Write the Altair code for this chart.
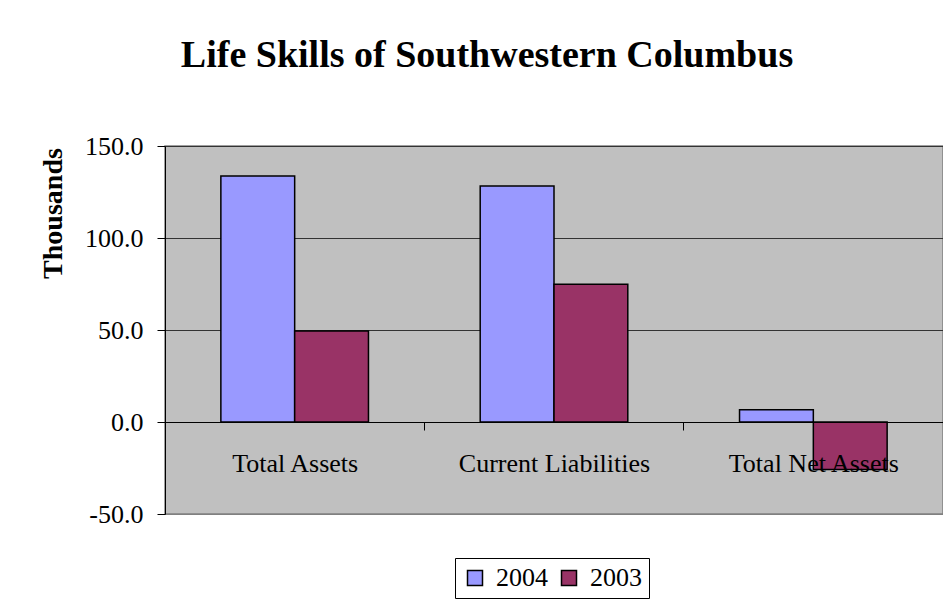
import altair as alt
import pandas as pd

categories = ["Total Assets", "Current Liabilities", "Total Net Assets"]
series = ["2004", "2003"]
values_2004 = [133.7, 128.2, 6.6]
values_2003 = [49.5, 74.9, -25.8]
series_colors = ["#9999FF", "#993366"]
y_ticks = [-50, 0, 50, 100, 150]

rows = []
for c, v4, v3 in zip(categories, values_2004, values_2003):
    rows.append({"category": c, "year": "2004", "value": v4})
    rows.append({"category": c, "year": "2003", "value": v3})
df = pd.DataFrame(rows)

FONT = "Liberation Serif"

chart = alt.Chart(df).mark_bar(stroke="black", strokeWidth=1.5, opacity=1).encode(
    x=alt.X("category:N", sort=categories,
            scale=alt.Scale(paddingInner=0, paddingOuter=0),
            axis=alt.Axis(title=None, orient="bottom", offset=-92, labelAngle=0,
                          labelFont=FONT, labelFontSize=26, labelColor="black",
                          labelPadding=20, labelLimit=0,
                          tickSize=8, tickColor="black", tickOffset=-130, labelOffset=130,
                          domainColor="black", domainWidth=1, grid=False, zindex=1)),
    xOffset=alt.XOffset("year:N", sort=series,
                        scale=alt.Scale(paddingInner=0, paddingOuter=0.757)),
    y=alt.Y("value:Q",
            scale=alt.Scale(domain=[-50, 150], nice=False, zero=False),
            axis=alt.Axis(title="Thousands", values=y_ticks,
                          labelExpr="replace(format(datum.value, '.1f'), '\u2212', '-')",
                          labelFont=FONT, labelFontSize=26, labelColor="black",
                          labelPadding=14,
                          tickSize=8, tickColor="black", domainColor="black",
                          grid=True,
                          gridColor=alt.condition("datum.value == -50",
                                                  alt.value("#808080"), alt.value("#333333")),
                          gridWidth=1,
                          titleFont=FONT, titleFontSize=28, titleFontWeight="bold",
                          titleColor="black", titleAngle=270, titleX=-112, titleY=67,
                          titleAlign="center", titleBaseline="middle")),
    color=alt.Color("year:N", sort=series,
                    scale=alt.Scale(domain=series, range=series_colors),
                    legend=alt.Legend(title=None, orient="none", legendX=290, legendY=412,
                                      direction="horizontal", symbolType="square",
                                      symbolSize=225, symbolStrokeColor="black",
                                      symbolStrokeWidth=1.5, symbolOpacity=1,
                                      labelFont=FONT, labelFontSize=26, labelColor="black",
                                      labelOffset=8, columnPadding=8, padding=7,
                                      strokeColor="black", fillColor="white", labelLimit=0)),
).properties(
    width=778,
    height=368,
    background="white",
    title=alt.TitleParams("Life Skills of Southwestern Columbus", font=FONT, fontSize=38,
                          fontWeight="bold", color="black", anchor="middle", frame="group",
                          baseline="alphabetic", offset=28, dx=-67),
    autosize=alt.AutoSizeParams(type="none"),
    padding={"left": 157, "top": 138, "right": 0, "bottom": 87},
).configure_view(
    fill="#C0C0C0", stroke="#808080", strokeWidth=1.5
)

chart.save("out.html", embed_options={"renderer": "svg", "actions": False})
